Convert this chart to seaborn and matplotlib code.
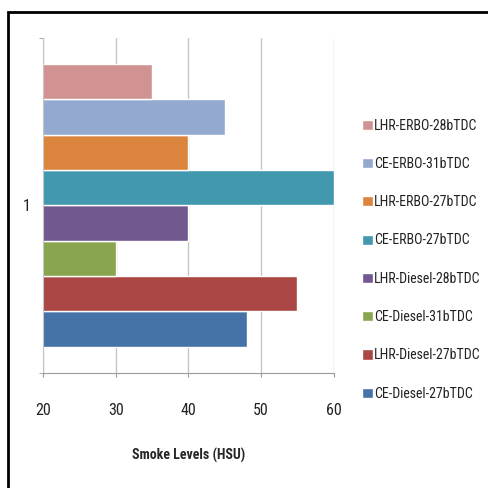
import pandas as pd
import matplotlib.pyplot as plt
import seaborn as sns
from matplotlib import font_manager
from matplotlib.patches import Rectangle

# Series names, bottom to top, and smoke levels (HSU)
series = ['CE-Diesel-27bTDC', 'LHR-Diesel-27bTDC', 'CE-Diesel-31bTDC', 'LHR-Diesel-28bTDC',
          'CE-ERBO-27bTDC', 'LHR-ERBO-27bTDC', 'CE-ERBO-31bTDC', 'LHR-ERBO-28bTDC']
smoke = [48, 55, 30, 40, 60, 40, 45, 35]
category = ['1'] * len(series)
colors = ['#4572A7', '#AA4643', '#89A54E', '#71588F', '#4198AF', '#DB843D', '#93A9CF', '#D19392']
x_ticks = [20, 30, 40, 50, 60]

df = pd.DataFrame({'category': category, 'series': series, 'smoke': smoke})

sns.set_style('white')
# the original uses a narrow Calibri-like face; take a condensed font if there is one
installed = {f.name for f in font_manager.fontManager.ttflist}
if 'Roboto Condensed' in installed:
    plt.rcParams['font.family'] = ['Roboto Condensed', 'DejaVu Sans']
    fs = 10
else:
    plt.rcParams['font.family'] = ['Liberation Sans', 'DejaVu Sans']
    fs = 8.4
plt.rcParams['text.color'] = '#222222'

fig = plt.figure(figsize=(4.88, 4.88), dpi=100)
ax = fig.add_axes([0.088, 0.236, 0.596, 0.686])

sns.barplot(data=df, y='category', x='smoke', hue='series', hue_order=series,
            palette=colors, orient='h', width=0.8, saturation=1, ax=ax, legend=True)
ax.invert_yaxis()  # first series at the bottom, like Excel
ax.set_ylim(-0.4735, 0.4735)
ax.set_xlim(20, 60)
ax.set_xticks(x_ticks)
ax.xaxis.grid(True, color='#c6c6c6', lw=1)
ax.set_axisbelow(True)

for s in ['top', 'right']:
    ax.spines[s].set_visible(False)
ax.spines['left'].set_color('#c6c6c6')
ax.spines['bottom'].set_color('#9a9a9a')

ax.tick_params(axis='x', length=3, color='#9a9a9a', labelsize=fs + 1.5, pad=19,
               direction='out', labelcolor='#222222')
ax.tick_params(axis='y', which='major', length=0, labelsize=fs + 1.5, pad=9, labelcolor='#222222')
ax.set_yticks([-0.4735, 0.4735], minor=True)
ax.tick_params(axis='y', which='minor', length=3, color='#9a9a9a', direction='out')
ax.xaxis.set_tick_params(bottom=True)
ax.yaxis.set_tick_params(left=True, which='both')

ax.set_ylabel('')
ax.set_xlabel('Smoke Levels (HSU)', fontsize=fs, fontweight='bold', labelpad=21)

handles, labels = ax.get_legend_handles_labels()
ax.legend(handles[::-1], labels[::-1], loc='center left', bbox_to_anchor=(0.742, 0.468),
          bbox_transform=fig.transFigure, frameon=False, fontsize=fs,
          handlelength=0.75, handleheight=0.75, handletextpad=0.1,
          labelspacing=1.75, borderaxespad=0, borderpad=0)

fig.add_artist(Rectangle((0.0164, -0.1), 1.1, 1.075, transform=fig.transFigure,
                         fill=False, lw=2, edgecolor='black'))

plt.savefig('out.png', dpi=100)
